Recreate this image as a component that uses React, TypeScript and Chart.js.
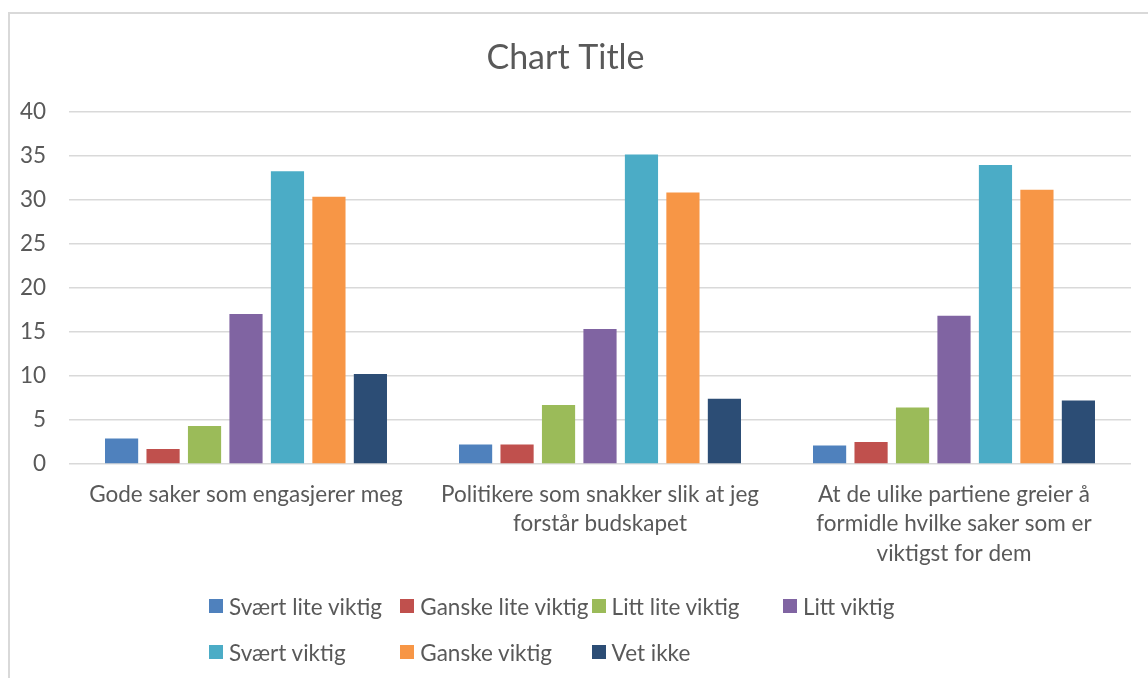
import React, { useEffect, useRef } from "react";
import { Chart, registerables } from "chart.js";

Chart.register(...registerables);

const categories: string[][] = [
  ["Gode saker som engasjerer meg"],
  ["Politikere som snakker slik at jeg", "forstår budskapet"],
  ["At de ulike partiene greier å", "formidle hvilke saker som er", "viktigst for dem"],
];

const seriesNames = [
  "Svært lite viktig",
  "Ganske lite viktig",
  "Litt lite viktig",
  "Litt viktig",
  "Svært viktig",
  "Ganske viktig",
  "Vet ikke",
];

const svaertLiteViktig = [2.9, 2.2, 2.1];
const ganskeLiteViktig = [1.7, 2.2, 2.5];
const littLiteViktig = [4.3, 6.7, 6.4];
const littViktig = [17.0, 15.3, 16.8];
const svaertViktig = [33.2, 35.1, 33.9];
const ganskeViktig = [30.3, 30.8, 31.1];
const vetIkke = [10.2, 7.4, 7.2];

const seriesValues = [
  svaertLiteViktig,
  ganskeLiteViktig,
  littLiteViktig,
  littViktig,
  svaertViktig,
  ganskeViktig,
  vetIkke,
];

const seriesColors = ["#4F81BD", "#C0504D", "#9BBB59", "#8064A2", "#4BACC6", "#F79646", "#2C4D75"];

const yTicks = [0, 5, 10, 15, 20, 25, 30, 35, 40];

const FONT = "Lato, 'Open Sans', sans-serif";
const TEXT = "#595959";

export default function App() {
  const ref = useRef<HTMLCanvasElement | null>(null);

  useEffect(() => {
    if (!ref.current) return;
    const chart = new Chart(ref.current, {
      type: "bar",
      data: {
        labels: categories,
        datasets: seriesNames.map((name, i) => ({
          label: name,
          data: seriesValues[i],
          backgroundColor: seriesColors[i],
          borderWidth: 0,
          categoryPercentage: 0.82,
          barPercentage: 0.8,
        })),
      },
      options: {
        responsive: false,
        animation: false,
        layout: { padding: { left: 0, right: 17, top: 0, bottom: 100 } },
        plugins: {
          legend: { display: false },
          tooltip: { enabled: false },
          title: {
            display: true,
            text: "Chart Title",
            color: TEXT,
            font: { family: FONT, size: 34, weight: "normal", lineHeight: 1.2 },
            padding: { top: 37.5, bottom: 33 },
          },
        },
        scales: {
          x: {
            grid: { display: false, drawTicks: false },
            border: { display: false },
            ticks: {
              color: TEXT,
              font: { family: FONT, size: 22.5, lineHeight: 1.31 },
              padding: 16,
              maxRotation: 0,
              autoSkip: false,
            },
            afterFit: (scale: any) => {
              scale.height = 114;
            },
          },
          y: {
            min: 0,
            max: 40,
            afterBuildTicks: (scale: any) => {
              scale.ticks = yTicks.map((v) => ({ value: v }));
            },
            grid: { color: "#d9d9d9", lineWidth: 1.5, drawTicks: false },
            border: { display: false },
            ticks: {
              color: TEXT,
              font: { family: FONT, size: 22.5 },
              padding: 23,
            },
            afterFit: (scale: any) => {
              scale.width = 69;
            },
          },
        },
      },
    });
    return () => chart.destroy();
  }, []);

  const colLeft = 209;
  const colWidth = 191.3;
  const rowCenters = [606, 652];

  return (
    <div
      style={{
        position: "fixed",
        left: 0,
        top: 0,
        width: 1148,
        height: 678,
        overflow: "hidden",
        background: "#fff",
      }}
    >
      <div
        style={{
          position: "absolute",
          left: 8,
          top: 12,
          width: 1200,
          height: 700,
          border: "2px solid #d9d9d9",
          boxSizing: "border-box",
        }}
      />
      <canvas ref={ref} width={1148} height={678} style={{ position: "absolute", left: 0, top: 0 }} />
      {seriesNames.map((name, i) => {
        const row = Math.floor(i / 4);
        const col = i % 4;
        return (
          <div
            key={name}
            style={{
              position: "absolute",
              left: colLeft + col * colWidth,
              top: rowCenters[row] - 15,
              height: 30,
              display: "flex",
              alignItems: "center",
              whiteSpace: "nowrap",
              fontFamily: FONT,
              fontSize: 22.5,
              color: TEXT,
            }}
          >
            <span
              style={{
                display: "inline-block",
                width: 14,
                height: 14,
                background: seriesColors[i],
                marginRight: 6,
              }}
            />
            <span>{name}</span>
          </div>
        );
      })}
    </div>
  );
}
